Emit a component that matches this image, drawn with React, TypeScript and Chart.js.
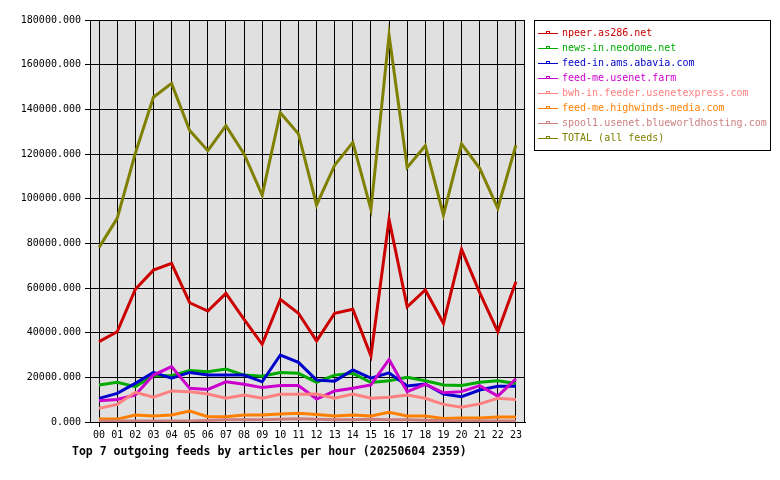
import React, { useEffect, useRef } from "react";
import { Chart, registerables } from "chart.js";

Chart.register(...registerables);

const hours = ["00","01","02","03","04","05","06","07","08","09","10","11","12","13","14","15","16","17","18","19","20","21","22","23"];

const seriesNames = [
  "npeer.as286.net",
  "news-in.neodome.net",
  "feed-in.ams.abavia.com",
  "feed-me.usenet.farm",
  "bwh-in.feeder.usenetexpress.com",
  "feed-me.highwinds-media.com",
  "spool1.usenet.blueworldhosting.com",
  "TOTAL (all feeds)",
];

const seriesColors = ["#cc0000", "#00aa00", "#0000cc", "#cc00cc", "#ff8080", "#ff8000", "#cc7f7f", "#808000"];

const npeer = [36000, 40400, 59400, 68000, 71000, 53400, 49700, 57600, 46000, 34800, 54900, 48700, 36300, 48700, 50500, 29600, 90700, 51600, 59100, 44200, 77300, 57900, 40400, 62800];
const neodome = [16600, 17800, 15800, 20700, 20700, 23000, 22500, 23700, 21000, 20500, 22200, 21800, 17800, 21000, 21800, 17700, 18500, 20000, 18500, 16600, 16300, 17800, 18500, 17200];
const abavia = [10600, 12800, 17300, 22200, 19600, 22200, 21000, 21000, 21000, 18000, 30000, 26700, 18800, 18300, 23300, 19600, 22000, 16100, 17000, 12500, 11300, 14300, 16000, 16000];
const usenetFarm = [9500, 10100, 12100, 21000, 24800, 15100, 14600, 18000, 16900, 15400, 16300, 16300, 10300, 13900, 15100, 16600, 28000, 13600, 16900, 13100, 13600, 16300, 11600, 19300];
const usenetExpress = [6100, 7900, 13300, 11100, 13900, 13600, 12500, 10600, 12100, 10600, 12400, 12400, 12500, 10600, 12500, 10600, 11100, 12100, 10600, 7900, 6600, 8100, 10600, 10100];
const highwinds = [1300, 1300, 3100, 2700, 3100, 4900, 2400, 2400, 3100, 3100, 3600, 3900, 3400, 2700, 3100, 2700, 4300, 2700, 2700, 1600, 1800, 1800, 2200, 2200];
const blueworld = [400, 400, 500, 500, 500, 500, 700, 1000, 1000, 1000, 1200, 1500, 1200, 1000, 1000, 1200, 1000, 1000, 800, 600, 500, 500, 500, 500];
const total = [78200, 91200, 120300, 145400, 151600, 130500, 121500, 132700, 120000, 101600, 138500, 129000, 97200, 115000, 125200, 95200, 173300, 114000, 123700, 92700, 124500, 113600, 95700, 124000];

const yTicks = [0, 20000, 40000, 60000, 80000, 100000, 120000, 140000, 160000, 180000];

const titleText = "Top 7 outgoing feeds by articles per hour (20250604 2359)";

const MONO = "'DejaVu Sans Mono', 'Liberation Mono', monospace";

export default function App() {
  const ref = useRef<HTMLCanvasElement | null>(null);

  useEffect(() => {
    document.body.style.margin = "0";
    const canvas = ref.current;
    if (!canvas) return;
    const allData = [npeer, neodome, abavia, usenetFarm, usenetExpress, highwinds, blueworld, total];

    const framePlugin = {
      id: "frame",
      beforeDraw(chart: any) {
        const { ctx, chartArea } = chart;
        ctx.save();
        ctx.fillStyle = "#ffffff";
        ctx.fillRect(0, 0, chart.width, chart.height);
        ctx.fillStyle = "#e0e0e0";
        ctx.fillRect(chartArea.left, chartArea.top, chartArea.right - chartArea.left, chartArea.bottom - chartArea.top);
        ctx.restore();
      },
      afterDraw(chart: any) {
        const { ctx, chartArea } = chart;
        ctx.save();
        ctx.strokeStyle = "#000000";
        ctx.lineWidth = 1;
        ctx.strokeRect(Math.round(chartArea.left) + 0.5, Math.round(chartArea.top) + 0.5,
          Math.round(chartArea.right - chartArea.left) - 1, Math.round(chartArea.bottom - chartArea.top));

        // legend
        const lx = 534, ly = 20, lw = 236, lh = 130;
        ctx.strokeRect(lx + 0.5, ly + 0.5, lw, lh);
        ctx.font = "10px " + MONO;
        ctx.textBaseline = "middle";
        ctx.textAlign = "left";
        seriesNames.forEach((name, i) => {
          const y = 33.5 + i * 15;
          const c = seriesColors[i];
          ctx.strokeStyle = c;
          ctx.lineWidth = 1;
          ctx.beginPath();
          ctx.moveTo(538, y);
          ctx.lineTo(558, y);
          ctx.stroke();
          ctx.strokeRect(546.5, y - 2, 3, 2);
          ctx.fillStyle = c;
          ctx.fillText(name, 562, y);
        });

        // title
        ctx.fillStyle = "#000000";
        ctx.font = "bold 11.5px " + MONO;
        ctx.textAlign = "left";
        ctx.textBaseline = "middle";
        ctx.fillText(titleText, 72, 452);
        ctx.restore();
      },
    };

    const chart = new Chart(canvas, {
      type: "line",
      data: {
        labels: hours,
        datasets: seriesNames.map((name, i) => ({
          label: name,
          data: allData[i],
          borderColor: seriesColors[i],
          backgroundColor: seriesColors[i],
          borderWidth: 3,
          pointRadius: 0,
          tension: 0,
          fill: false,
          order: seriesNames.length - i,
        })),
      },
      options: {
        responsive: false,
        animation: false,
        devicePixelRatio: 1,
        layout: { padding: { left: 0, right: 255, top: 20, bottom: 0 } },
        plugins: {
          legend: { display: false },
          title: { display: false },
          tooltip: { enabled: false },
        },
        scales: {
          x: {
            type: "category",
            offset: true,
            grid: {
              display: true,
              offset: false,
              color: "#000000",
              lineWidth: 1,
              drawTicks: true,
              tickLength: 5,
              tickColor: "#000000",
            },
            border: { display: true, color: "#000000" },
            ticks: {
              color: "#000000",
              font: { family: MONO, size: 10 },
              padding: 2,
              maxRotation: 0,
              autoSkip: false,
            },
            afterFit(scale: any) {
              scale.height = 58;
            },
          },
          y: {
            type: "linear",
            min: 0,
            max: 180000,
            afterBuildTicks(scale: any) {
              scale.ticks = yTicks.map((v) => ({ value: v }));
            },
            grid: {
              color: "#000000",
              lineWidth: 1,
              drawTicks: true,
              tickLength: 5,
              tickColor: "#000000",
            },
            border: { display: true, color: "#000000" },
            ticks: {
              color: "#000000",
              font: { family: MONO, size: 10 },
              padding: 4,
              callback: (v: any) => Number(v).toFixed(3),
            },
            afterFit(scale: any) {
              scale.width = 90;
            },
          },
        },
      },
      plugins: [framePlugin],
    });

    return () => chart.destroy();
  }, []);

  return <canvas ref={ref} width={780} height={480} style={{ display: "block", width: 780, height: 480 }} />;
}
